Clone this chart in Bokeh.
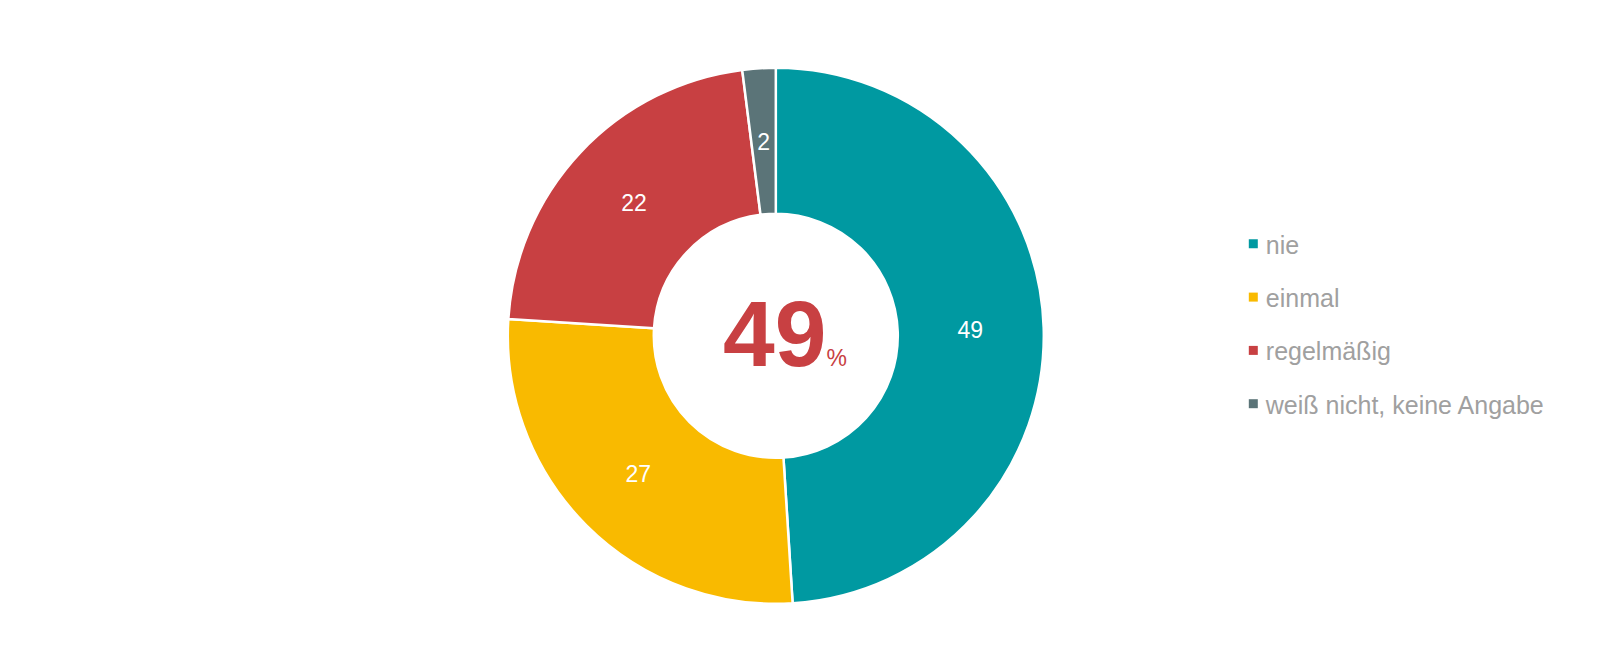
import math
from bokeh.plotting import figure
from bokeh.models import Range1d, ColumnDataSource
from bokeh.core.properties import value
from bokeh.embed import file_html
from bokeh.resources import INLINE

# ---- data ----
categories = ["nie", "einmal", "regelmäßig", "weiß nicht, keine Angabe"]
values = [49, 27, 22, 2]
colors = ["#0099A1", "#F9BA00", "#C84042", "#5B7478"]
center_value = values[0]

# ---- layout (pixels) ----
W, H = 1586, 648
cx, cy = 775.3, H - 335.3
r_in, r_out = 122, 268
FONT = "Liberation Sans"

p = figure(width=W, height=H, output_backend="svg", toolbar_location=None,
           x_range=Range1d(0, W), y_range=Range1d(0, H), min_border=0)
p.axis.visible = False
p.grid.visible = False
p.outline_line_color = None
p.background_fill_color = "white"
p.border_fill_color = "white"

total = float(sum(values))
starts, ends, lx, ly, labels = [], [], [], [], []
cum = 0.0
for v in values:
    a0 = math.pi / 2 - 2 * math.pi * cum / total
    cum += v
    a1 = math.pi / 2 - 2 * math.pi * cum / total
    starts.append(a0)
    ends.append(a1)
    mid = (a0 + a1) / 2
    rm = (r_in + r_out) / 2 - 0.5
    lx.append(cx + rm * math.cos(mid))
    ly.append(cy + rm * math.sin(mid))
    labels.append(str(v))

src = ColumnDataSource(dict(start=starts, end=ends, color=colors,
                            lx=lx, ly=ly, label=labels))
p.annular_wedge(x=cx, y=cy, inner_radius=r_in, outer_radius=r_out,
                start_angle="start", end_angle="end", direction="clock",
                fill_color="color", line_color="white", line_width=2.5,
                source=src)

p.text(x="lx", y="ly", text="label", source=src, text_color="white",
       text_font=value(FONT), text_font_size="23px", text_align="center",
       text_baseline="middle")

# center value
p.text(x=[cx - 1.1], y=[cy + 2], text=[str(center_value)],
       text_color="#C84042", text_font=value(FONT), text_font_size="93px",
       text_font_style="bold", text_align="center", text_baseline="middle")
p.text(x=[cx + 50.7], y=[cy - 21.7], text=["%"],
       text_color="#C84042", text_font=value(FONT), text_font_size="23px",
       text_align="left", text_baseline="middle")

# legend
leg_x = 1252.8
leg_top = H - 243.3
leg_step = 53.3
ys = [leg_top - i * leg_step for i in range(len(categories))]
p.scatter(x=[leg_x] * len(categories), y=ys, marker="square", size=9,
          fill_color=colors, line_color=None)
p.text(x=[leg_x + 12.5] * len(categories), y=[y - 1 for y in ys],
       text=categories, text_color="#A0A0A0", text_font=value(FONT),
       text_font_size="25px", text_align="left", text_baseline="middle")

open("out.html", "w").write(file_html(p, INLINE))
